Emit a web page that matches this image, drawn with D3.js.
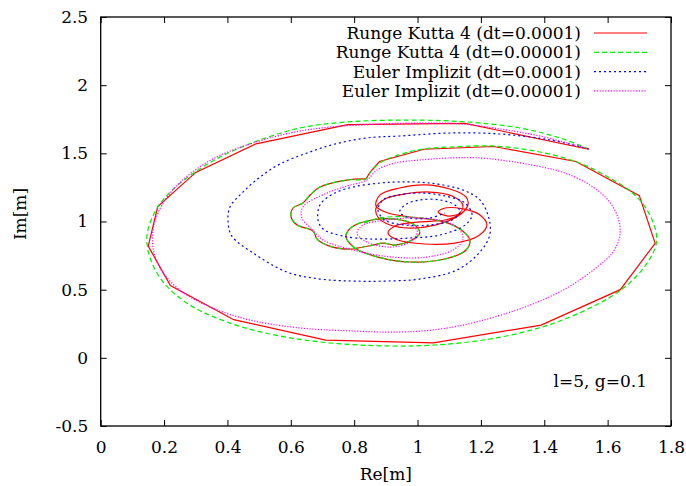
<!DOCTYPE html>
<html>
<head>
<meta charset="utf-8">
<script src="https://cdn.jsdelivr.net/npm/d3@7"></script>
<style>
  body { margin: 0; background: #fff; }
  svg text { font-family: "DejaVu Serif", serif; font-size: 17px; fill: #000; }
</style>
</head>
<body>
<div id="chart"></div>
<script>
// trajectories in the complex plane [Re, Im]
const rk4Outer = [[1.54,1.53],[1.15,1.72],[0.78,1.71],[0.49,1.57],[0.30,1.36],[0.18,1.11],[0.15,0.82],[0.22,0.53],
  [0.42,0.28],[0.71,0.13],[1.05,0.11],[1.39,0.24],[1.64,0.50],[1.75,0.84],[1.70,1.19],[1.50,1.44],[1.24,1.55],
  [1.02,1.53],[0.88,1.44],[0.85,1.36],[0.837,1.312]]
const rk4Inner = [[0.837,1.312],[0.777,1.304],[0.692,1.253],[0.661,1.194],[0.638,1.135],[0.607,1.099],[0.601,1.033],
  [0.620,0.974],[0.670,0.930],[0.683,0.871],[0.714,0.827],[0.777,0.798],[0.859,0.827],[0.891,0.842],[0.929,0.827],
  [0.976,0.857],[1.007,0.915],[0.986,0.981],[0.929,1.018],[0.856,1.011],[0.793,0.960],[0.774,0.893],[0.802,0.805],
  [0.875,0.739],[0.976,0.703],[1.087,0.725],[1.153,0.791],[1.165,0.864],[1.134,0.945],[1.071,1.004],[0.976,1.033],
  [0.907,1.062],[0.869,1.114],[0.881,1.194],[0.944,1.246],[1.023,1.268],[1.102,1.238],[1.153,1.180],[1.159,1.121],
  [1.128,1.040],[1.055,0.974],[0.976,0.952],[0.913,0.974],[0.875,1.033],[0.869,1.099],[0.897,1.165],[0.960,1.202],
  [1.039,1.216],[1.109,1.187],[1.143,1.121],[1.128,1.048],[1.087,1.011],[1.001,0.996],[0.929,0.967],[0.907,0.915],
  [0.938,0.864],[1.023,0.835],[1.118,0.842],[1.191,0.893],[1.219,0.974],[1.197,1.048],[1.143,1.092],[1.087,1.099],
  [1.065,1.070],[1.096,1.040],[1.143,1.062]]
const rk4Fine = [[1.541,1.532],[1.449,1.613],[1.323,1.686],[1.156,1.730],[0.976,1.744],[0.777,1.730],[0.629,1.686],
  [0.493,1.590],[0.383,1.480],[0.298,1.363],[0.219,1.216],[0.171,1.070],[0.146,0.893],[0.156,0.732],[0.197,0.556],
  [0.282,0.387],[0.417,0.248],[0.566,0.160],[0.724,0.109],[0.913,0.087],[1.055,0.094],[1.228,0.138],[1.393,0.226],
  [1.544,0.365],[1.654,0.519],[1.727,0.703],[1.755,0.864],[1.733,1.048],[1.686,1.194],[1.607,1.319],[1.503,1.436],
  [1.370,1.517],[1.235,1.554],[1.102,1.546],[1.017,1.532],[0.929,1.480],[0.881,1.429],[0.850,1.356],[0.837,1.312],
  [0.777,1.304],[0.692,1.253],[0.661,1.194],[0.638,1.135],[0.607,1.099],[0.601,1.033],[0.620,0.974],[0.670,0.930],
  [0.683,0.871],[0.714,0.827],[0.777,0.798],[0.859,0.827],[0.891,0.842],[0.929,0.827],[0.976,0.857],[1.007,0.915],
  [0.986,0.981],[0.929,1.018],[0.856,1.011],[0.793,0.960],[0.774,0.893],[0.802,0.805],[0.875,0.739],[0.976,0.703],
  [1.087,0.725],[1.153,0.791],[1.165,0.864],[1.134,0.945],[1.071,1.004],[0.976,1.033],[0.881,1.026],[0.825,0.981]]
const eulerCoarse = [[1.541,1.532],[1.418,1.598],[1.260,1.642],[1.102,1.649],[0.944,1.627],[0.840,1.613],[0.739,1.568],
  [0.651,1.502],[0.566,1.422],[0.503,1.326],[0.449,1.216],[0.408,1.106],[0.402,0.996],[0.414,0.893],[0.481,0.769],
  [0.588,0.629],[0.692,0.578],[0.796,0.563],[0.897,0.563],[1.007,0.578],[1.124,0.644],[1.197,0.776],[1.228,0.901],
  [1.225,1.026],[1.197,1.158],[1.143,1.231],[1.039,1.282],[0.944,1.290],[0.881,1.282],[0.796,1.253],[0.733,1.202],
  [0.692,1.121],[0.686,1.011],[0.702,0.945],[0.765,0.893],[0.859,0.871],[0.976,0.879],[1.071,0.901],[1.150,0.974],
  [1.172,1.048],[1.150,1.135],[1.087,1.187],[1.007,1.209],[0.938,1.194],[0.891,1.158],[0.875,1.084],[0.897,1.011],
  [0.960,0.974],[1.039,0.974],[1.109,1.011],[1.134,1.070],[1.118,1.121],[1.071,1.158],[1.007,1.158],[0.960,1.121],
  [0.944,1.070],[0.976,1.026],[1.039,1.026],[1.087,1.062]]
const eulerFine = [[1.541,1.532],[1.386,1.627],[1.260,1.679],[1.143,1.715],[1.007,1.722],[0.881,1.715],[0.724,1.693],
  [0.597,1.649],[0.471,1.568],[0.360,1.466],[0.266,1.319],[0.203,1.158],[0.168,0.974],[0.165,0.813],[0.187,0.659],
  [0.250,0.497],[0.345,0.373],[0.471,0.277],[0.629,0.219],[0.796,0.197],[0.944,0.189],[1.071,0.211],[1.197,0.270],
  [1.355,0.387],[1.471,0.512],[1.563,0.659],[1.617,0.776],[1.639,0.901],[1.632,1.033],[1.601,1.158],[1.544,1.268],
  [1.465,1.356],[1.408,1.392],[1.307,1.436],[1.197,1.466],[1.102,1.466],[1.007,1.451],[0.929,1.429],[0.872,1.378],
  [0.840,1.304],[0.777,1.260],[0.714,1.209],[0.638,1.106],[0.635,1.026],[0.670,0.937],[0.702,0.864],[0.796,0.791],
  [0.922,0.739],[1.030,0.739],[1.112,0.791],[1.143,0.864],[1.134,0.937],[1.093,0.996],[0.998,1.026],[0.903,1.011],
  [0.828,0.974],[0.809,0.915],[0.840,0.849],[0.922,0.813],[0.986,0.864],[0.998,0.937],[0.954,0.989]]

const legendLabels = ['Runge Kutta 4 (dt=0.0001)', 'Runge Kutta 4 (dt=0.00001)', 'Euler Implizit (dt=0.0001)', 'Euler Implizit (dt=0.00001)']
const xTicks = [0, 0.2, 0.4, 0.6, 0.8, 1, 1.2, 1.4, 1.6, 1.8]
const yTicks = [-0.5, 0, 0.5, 1, 1.5, 2, 2.5]

const w = 686, h = 486
const padL = 100.7, padR = 671, padT = 17, padB = 426

const x = d3.scaleLinear().domain([0, 1.8]).range([padL, padR])
const y = d3.scaleLinear().domain([-0.5, 2.5]).range([padB, padT])

const svg = d3.select('#chart').append('svg')
    .attr('width', w)
    .attr('height', h)

svg.append('clipPath').attr('id', 'plot')
    .append('rect')
    .attr('x', padL).attr('y', padT)
    .attr('width', padR - padL).attr('height', padB - padT)

const straight = d3.line().x(d => x(d[0])).y(d => y(d[1]))
const smooth = d3.line().x(d => x(d[0])).y(d => y(d[1])).curve(d3.curveCatmullRom.alpha(0.5))

const styles = [
    {color: '#ff0000', dash: null},
    {color: '#00ee00', dash: '5,3'},
    {color: '#0000ff', dash: '2,3'},
    {color: '#ff00ff', dash: '1.2,1.6'}
]

const curves = svg.append('g').attr('clip-path', 'url(#plot)')
    .attr('fill', 'none')
    .attr('stroke-width', 1.2)

const draw = (d, s) => curves.append('path')
    .attr('d', d)
    .attr('stroke', s.color)
    .attr('stroke-dasharray', s.dash)

draw(straight(rk4Outer), styles[0])
draw(smooth(rk4Inner), styles[0])
draw(smooth(rk4Fine), styles[1])
draw(smooth(eulerCoarse), styles[2])
draw(smooth(eulerFine), styles[3])

// axes, ticks mirrored on all sides (plain hyphen for negatives, like gnuplot)
const fmt = d => String(d)
svg.append('g')
    .attr('transform', 'translate(0,' + padB + ')')
    .call(d3.axisBottom(x).tickValues(xTicks).tickFormat(fmt).tickSizeInner(-6).tickSizeOuter(0).tickPadding(15))
svg.append('g')
    .attr('transform', 'translate(0,' + padT + ')')
    .call(d3.axisTop(x).tickValues(xTicks).tickFormat('').tickSizeInner(-6).tickSizeOuter(0))
svg.append('g')
    .attr('transform', 'translate(' + padL + ',0)')
    .call(d3.axisLeft(y).tickValues(yTicks).tickFormat(fmt).tickSizeInner(-6).tickSizeOuter(0).tickPadding(12.5))
svg.append('g')
    .attr('transform', 'translate(' + padR + ',0)')
    .call(d3.axisRight(y).tickValues(yTicks).tickFormat('').tickSizeInner(-6).tickSizeOuter(0))

svg.selectAll('.domain').remove()
svg.selectAll('.tick line').attr('stroke', '#000').attr('stroke-width', 1)
svg.selectAll('.tick text').style('font-family', '"DejaVu Serif", serif').style('font-size', '17px')

svg.append('rect')
    .attr('x', padL).attr('y', padT)
    .attr('width', padR - padL).attr('height', padB - padT)
    .attr('fill', 'none')
    .attr('stroke', '#000')
    .attr('stroke-width', 1.3)

svg.append('text')
    .attr('x', (padL + padR) / 2)
    .attr('y', 480)
    .attr('text-anchor', 'middle')
    .text('Re[m]')

svg.append('text')
    .attr('transform', 'translate(20,214) rotate(-90)')
    .attr('text-anchor', 'middle')
    .attr('dominant-baseline', 'central')
    .text('Im[m]')

svg.append('text')
    .attr('x', 647)
    .attr('y', 381)
    .attr('text-anchor', 'end')
    .attr('dominant-baseline', 'central')
    .text('l=5, g=0.1')

// legend
const legend = svg.append('g')
legendLabels.forEach((label, i) => {
    const ly = 33 + i * 19.3
    legend.append('text')
        .attr('x', 581)
        .attr('y', ly)
        .attr('text-anchor', 'end')
        .attr('dominant-baseline', 'central')
        .text(label)
    legend.append('line')
        .attr('x1', 594).attr('x2', 647)
        .attr('y1', ly).attr('y2', ly)
        .attr('stroke', styles[i].color)
        .attr('stroke-width', 1.2)
        .attr('stroke-dasharray', styles[i].dash)
})
</script>
</body>
</html>
